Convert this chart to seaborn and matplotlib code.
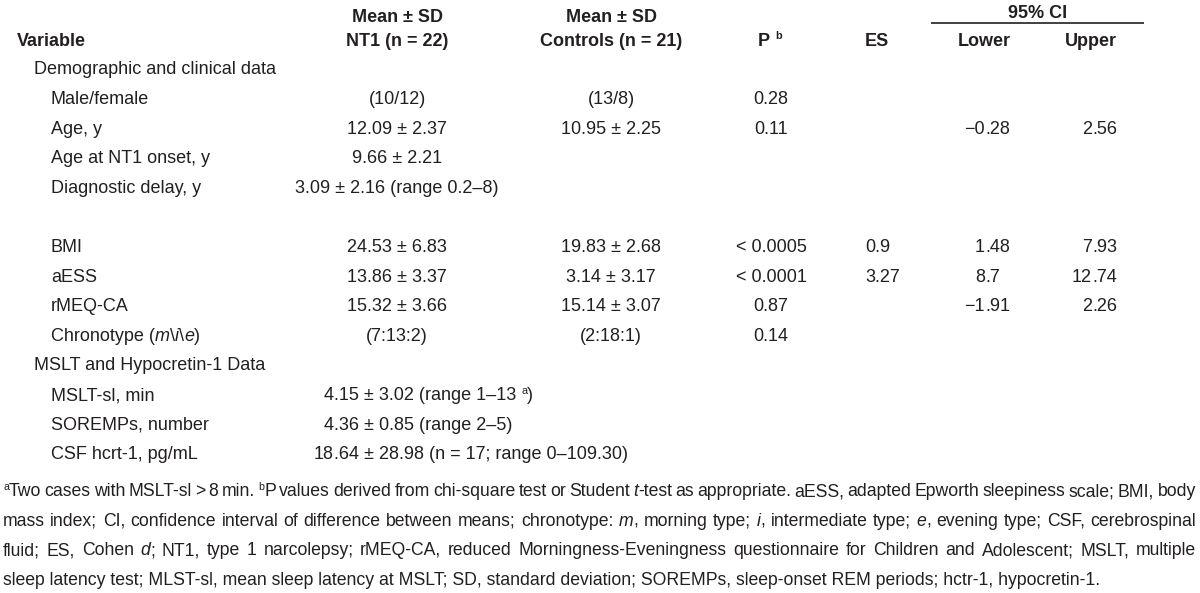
import matplotlib
matplotlib.use("Agg")
import matplotlib.pyplot as plt
from matplotlib import font_manager
import seaborn as sns

# ---- table content ----
# markup: *x* = italic, ^x = superscript character
row_labels = ["Demographic and clinical data", "Male/female", "Age, y", "Age at NT1 onset, y",
              "Diagnostic delay, y", "", "BMI", "aESS", "rMEQ-CA", "Chronotype (*m*\\*i*\\*e*)",
              "MSLT and Hypocretin-1 Data", "MSLT-sl, min", "SOREMPs, number", "CSF hcrt-1, pg/mL"]
section_rows = [0, 10]
nt1_vals = ["", "(10/12)", "12.09 ± 2.37", "9.66 ± 2.21", "3.09 ± 2.16 (range 0.2–8)", "",
            "24.53 ± 6.83", "13.86 ± 3.37", "15.32 ± 3.66", "(7:13:2)", "",
            "4.15 ± 3.02 (range 1–13 ^a)", "4.36 ± 0.85 (range 2–5)",
            "18.64 ± 28.98 (n = 17; range 0–109.30)"]
control_vals = ["", "(13/8)", "10.95 ± 2.25", "", "", "", "19.83 ± 2.68", "3.14 ± 3.17",
                "15.14 ± 3.07", "(2:18:1)", "", "", "", ""]
p_vals = ["", "0.28", "0.11", "", "", "", "< 0.0005", "< 0.0001", "0.87", "0.14", "", "", "", ""]
es_vals = ["", "", "", "", "", "", "0.9", "3.27", "", "", "", "", "", ""]
ci_lower = ["", "", "−0.28", "", "", "", "1.48", "8.7", "−1.91", "", "", "", "", ""]
ci_upper = ["", "", "2.56", "", "", "", "7.93", "12.74", "2.26", "", "", "", "", ""]
wide_rows = [11, 12, 13]   # NT1-only rows aligned on the decimal point

footnote_lines = [
    "^aTwo cases with MSLT-sl > 8 min. ^bP values derived from chi-square test or Student *t*-test as appropriate. aESS, adapted Epworth sleepiness scale; BMI, body",
    "mass index; CI, confidence interval of difference between means; chronotype: *m*, morning type; *i*, intermediate type; *e*, evening type; CSF, cerebrospinal",
    "fluid; ES, Cohen *d*; NT1, type 1 narcolepsy; rMEQ-CA, reduced Morningness-Eveningness questionnaire for Children and Adolescent; MSLT, multiple",
    "sleep latency test; MLST-sl, mean sleep latency at MSLT; SD, standard deviation; SOREMPs, sleep-onset REM periods; hctr-1, hypocretin-1.",
]

# ---- style ----
sns.set_theme(style="white")
names = {f.name for f in font_manager.fontManager.ttflist}
FONT = "Liberation Sans Narrow" if "Liberation Sans Narrow" in names else "Liberation Sans"
plt.rcParams["font.family"] = [FONT, "DejaVu Sans"]
INK = "#231f20"
FS = 13.0
FFS = 12.7

fig = plt.figure(figsize=(12, 5.93), dpi=100)
ax = fig.add_axes([0, 0, 1, 1])
ax.set_xlim(0, 1200)
ax.set_ylim(593, 0)
ax.axis("off")
renderer = fig.canvas.get_renderer()

_cache = {}


def ink_width(s, fs, style, weight):
    key = (s, round(fs, 3), style, weight)
    if key not in _cache:
        t = ax.text(0, 0, s, fontsize=fs, fontstyle=style, fontweight=weight)
        _cache[key] = t.get_window_extent(renderer).width
        t.remove()
    return _cache[key]


def advance(s, fs, style="normal", weight="normal"):
    # pen advance incl. spaces: bracket the string with x's
    return ink_width("x" + s + "x", fs, style, weight) - ink_width("xx", fs, style, weight)


def parse(text):
    runs, buf, italic, i = [], "", False, 0
    while i < len(text):
        c = text[i]
        if c == "*":
            if buf:
                runs.append((buf, "i" if italic else "n"))
            buf, italic = "", not italic
        elif c == "^":
            if buf:
                runs.append((buf, "i" if italic else "n"))
            buf = ""
            runs.append((text[i + 1], "sup"))
            i += 1
        else:
            buf += c
        i += 1
    if buf:
        runs.append((buf, "i" if italic else "n"))
    return runs


def run_adv(run, fs, weight):
    s, kind = run
    if kind == "sup":
        return advance(s, fs * 0.6, "normal", weight)
    return advance(s, fs, "italic" if kind == "i" else "normal", weight)


def put_runs(x, base, runs, fs, weight):
    for r in runs:
        s, kind = r
        if kind == "sup":
            ax.text(x, base - fs * 0.5, s, fontsize=fs * 0.6, color=INK,
                    fontweight=weight, ha="left", va="baseline")
        else:
            ax.text(x, base, s, fontsize=fs, color=INK, fontweight=weight,
                    fontstyle="italic" if kind == "i" else "normal",
                    ha="left", va="baseline")
        x += run_adv(r, fs, weight)
    return x


def cell(x, yc, text, fs=FS, ha="left", weight="normal"):
    runs = parse(text)
    total = sum(run_adv(r, fs, weight) for r in runs)
    if ha == "center":
        x -= total / 2
    elif ha == "right":
        x -= total
    put_runs(x, yc + fs * 0.5, runs, fs, weight)


def decimal_cell(x_dec, yc, value, fs=FS):
    if "." in value:
        head, tail = value.split(".", 1)
        cell(x_dec, yc, head, fs, ha="right")
        cell(x_dec, yc, "." + tail, fs)
    else:
        cell(x_dec, yc, value, fs, ha="right")


def justified(x0, x1, yc, text, fs):
    words = [parse(w) for w in text.split(" ")]
    widths = [sum(run_adv(r, fs, "normal") for r in w) for w in words]
    gap = (x1 - x0 - sum(widths)) / (len(words) - 1)
    x = x0
    for w, ww in zip(words, widths):
        put_runs(x, yc + fs * 0.5, w, fs, "normal")
        x += ww + gap


# ---- header ----
cell(17, 39, "Variable", weight="bold")
cell(397, 15, "Mean ± SD", ha="center", weight="bold")
cell(397, 39, "NT1 (n = 22)", ha="center", weight="bold")
cell(611, 15, "Mean ± SD", ha="center", weight="bold")
cell(611, 39, "Controls (n = 21)", ha="center", weight="bold")
cell(770, 39, "P ^b", ha="center", weight="bold")
cell(865, 39, "ES", weight="bold")
cell(1038, 11, "95% CI", ha="center", weight="bold")
ax.plot([931, 1144], [23, 23], color=INK, lw=1.2, solid_capstyle="butt")
cell(984, 39, "Lower", ha="center", weight="bold")
cell(1091, 39, "Upper", ha="center", weight="bold")

# ---- body rows ----
for i, label in enumerate(row_labels):
    y = 68 + 29.6 * i
    if label:
        cell(34 if i in section_rows else 51, y, label)
    if nt1_vals[i]:
        if i in wide_rows:
            decimal_cell(334, y, nt1_vals[i])
        else:
            cell(397, y, nt1_vals[i], ha="center")
    if control_vals[i]:
        cell(611, y, control_vals[i], ha="center")
    if p_vals[i]:
        cell(771, y, p_vals[i], ha="center")
    if es_vals[i]:
        cell(865, y, es_vals[i])
    if ci_lower[i]:
        decimal_cell(985, y, ci_lower[i])
    if ci_upper[i]:
        decimal_cell(1092, y, ci_upper[i])

# ---- footnote (justified except the last line) ----
for k, line in enumerate(footnote_lines):
    y = 490 + 29.4 * k
    if k < len(footnote_lines) - 1:
        justified(3, 1196, y, line, FFS)
    else:
        cell(3, y, line, FFS)

fig.savefig("out.png", dpi=100, facecolor="white")
